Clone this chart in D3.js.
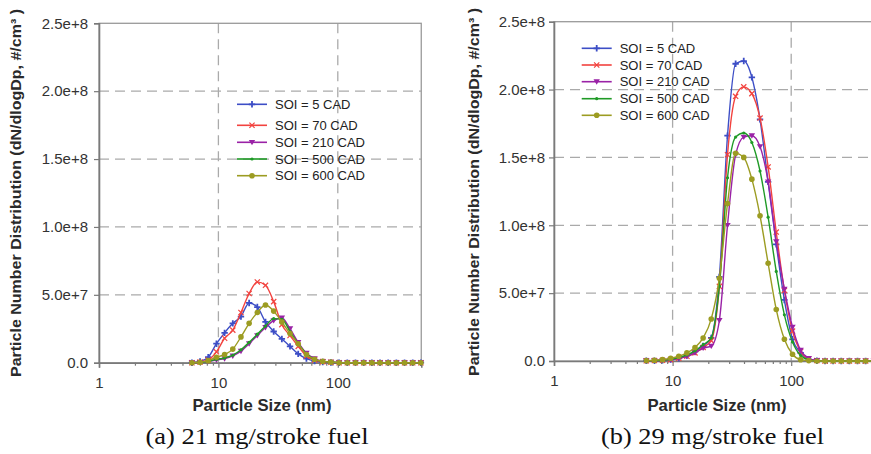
<!DOCTYPE html>
<html><head><meta charset="utf-8">
<script src="https://cdn.jsdelivr.net/npm/d3@7"></script>
<style>body{margin:0;background:#fff}svg{display:block}</style>
</head><body>
<svg id="c" width="871" height="454"></svg>
<script>
// ---------- DATA ----------
const sizes = [6.0,7.02,8.22,9.63,11.27,13.2,15.45,18.09,21.18,24.8,29.04,34.0,39.8,46.6,54.6,63.9,74.8,87.6,102.6,120.1,140.6,164.7,192.8,225.7,264.2,309.4,362.2,424.1,496.6];
const seriesNames = ["SOI = 5 CAD","SOI = 70 CAD","SOI = 210 CAD","SOI = 500 CAD","SOI = 600 CAD"];

// (a) 21 mg/stroke fuel
const a_soi5   = [0,0.01e8,0.04e8,0.14e8,0.22e8,0.29e8,0.34e8,0.44e8,0.41e8,0.30e8,0.23e8,0.175e8,0.12e8,0.065e8,0.03e8,0.012e8,0.005e8,0.002e8,0,0,0,0,0,0,0,0,0,0,0];
const a_soi70  = [0,0.005e8,0.02e8,0.08e8,0.18e8,0.24e8,0.37e8,0.51e8,0.595e8,0.57e8,0.45e8,0.28e8,0.20e8,0.12e8,0.05e8,0.02e8,0.008e8,0.003e8,0,0,0,0,0,0,0,0,0,0,0];
const a_soi210 = [0,0.003e8,0.01e8,0.02e8,0.03e8,0.05e8,0.085e8,0.14e8,0.20e8,0.26e8,0.31e8,0.33e8,0.25e8,0.15e8,0.07e8,0.03e8,0.01e8,0.004e8,0,0,0,0,0,0,0,0,0,0,0];
const a_soi500 = [0,0.003e8,0.01e8,0.025e8,0.035e8,0.055e8,0.095e8,0.15e8,0.21e8,0.27e8,0.325e8,0.32e8,0.23e8,0.14e8,0.065e8,0.025e8,0.01e8,0.004e8,0,0,0,0,0,0,0,0,0,0,0];
const a_soi600 = [0,0.003e8,0.015e8,0.04e8,0.06e8,0.10e8,0.19e8,0.29e8,0.37e8,0.425e8,0.38e8,0.30e8,0.215e8,0.14e8,0.06e8,0.025e8,0.01e8,0.004e8,0,0,0,0,0,0,0,0,0,0,0];

// (b) 29 mg/stroke fuel
const b_soi5   = [0.002e8,0.003e8,0.005e8,0.01e8,0.02e8,0.04e8,0.07e8,0.11e8,0.17e8,0.62e8,1.66e8,2.19e8,2.21e8,2.09e8,1.78e8,1.32e8,0.86e8,0.45e8,0.16e8,0.06e8,0.01e8,0.002e8,0,0,0,0,0,0,0];
const b_soi70  = [0.002e8,0.003e8,0.005e8,0.01e8,0.02e8,0.035e8,0.06e8,0.10e8,0.15e8,0.55e8,1.52e8,1.95e8,2.02e8,1.97e8,1.79e8,1.43e8,0.95e8,0.52e8,0.22e8,0.07e8,0.015e8,0.003e8,0,0,0,0,0,0,0];
const b_soi210 = [0.002e8,0.003e8,0.005e8,0.01e8,0.02e8,0.035e8,0.06e8,0.095e8,0.11e8,0.30e8,1.0e8,1.52e8,1.65e8,1.66e8,1.58e8,1.32e8,0.88e8,0.53e8,0.25e8,0.08e8,0.02e8,0.004e8,0,0,0,0,0,0,0];
const b_soi500 = [0.002e8,0.003e8,0.006e8,0.012e8,0.025e8,0.045e8,0.075e8,0.12e8,0.17e8,0.55e8,1.35e8,1.65e8,1.68e8,1.61e8,1.40e8,1.06e8,0.66e8,0.34e8,0.14e8,0.04e8,0.008e8,0,0,0,0,0,0,0,0];
const b_soi600 = [0.003e8,0.005e8,0.01e8,0.02e8,0.035e8,0.06e8,0.10e8,0.17e8,0.31e8,0.61e8,1.16e8,1.53e8,1.50e8,1.34e8,1.07e8,0.72e8,0.38e8,0.16e8,0.05e8,0.01e8,0.003e8,0,0,0,0,0,0,0,0];

const yTicks = [0,5e7,1e8,1.5e8,2e8,2.5e8];
const yTickLabels = ["0.0","5.0e+7","1.0e+8","1.5e+8","2.0e+8","2.5e+8"];
const xTicks = [1,10,100];
const xTickLabels = ["1","10","100"];
const xMinor = [2,3,4,5,6,7,8,9,20,30,40,50,60,70,80,90,200,300,400,500];
const yTitle = "Particle Number Distribution (dN/dlogDp, #/cm³ )";
const xTitle = "Particle Size (nm)";
const captions = ["(a) 21 mg/stroke fuel","(b) 29 mg/stroke fuel"];

// ---------- STYLE / LAYOUT ----------
const colors = ["#3d4ec6","#f2433f","#9a22a6","#1f9a26","#9c9c22"];
const markers = ["plus","x","tri","dot","circle"];
const sans = "'Liberation Sans', Arial, Helvetica, sans-serif";
const serif = "'Liberation Serif', 'Times New Roman', serif";

const panels = [
  {series:[a_soi5,a_soi70,a_soi210,a_soi500,a_soi600], caption:captions[0],
   x0:99, decade:119.4, yb:362.7, yt:23.3, tickPad:6, xPad:10,
   yTitleX:15, yTitleY:193, xTitleX:262, xTitleY:405, capX:257, capY:444,
   legX:237, legY:[104.3,125.3,142.3,159,175.7]},
  {series:[b_soi5,b_soi70,b_soi210,b_soi500,b_soi600], caption:captions[1],
   x0:554, decade:118.6, yb:361, yt:21.7, tickPad:4, xPad:9,
   yTitleX:473, yTitleY:192, xTitleX:717, xTitleY:405, capX:712.5, capY:444,
   legX:581.7, legY:[48.3,65,81.7,98.7,115.3]}
];

const svg = d3.select("#c");

function drawMarker(g, type, color, cx, cy) {
  if (type === "plus") {
    g.append("path").attr("d", `M${cx-3.2},${cy}H${cx+3.2}M${cx},${cy-3.2}V${cy+3.2}`)
      .attr("stroke", color).attr("stroke-width", 1.8).attr("fill","none");
  } else if (type === "x") {
    g.append("path").attr("d", `M${cx-2.6},${cy-2.6}L${cx+2.6},${cy+2.6}M${cx-2.6},${cy+2.6}L${cx+2.6},${cy-2.6}`)
      .attr("stroke", color).attr("stroke-width", 1.2).attr("fill","none");
  } else if (type === "tri") {
    g.append("path").attr("d", `M${cx-3.2},${cy-2.4}L${cx+3.2},${cy-2.4}L${cx},${cy+3}Z`).attr("fill", color);
  } else if (type === "dot") {
    g.append("circle").attr("cx",cx).attr("cy",cy).attr("r",1.6).attr("fill",color);
  } else {
    g.append("circle").attr("cx",cx).attr("cy",cy).attr("r",2.8).attr("fill",color);
  }
}

panels.forEach(p => {
  const xEnd = p.x0 + Math.log10(500) * p.decade;
  const x = d3.scaleLog().domain([1,500]).range([p.x0, xEnd]);
  const y = d3.scaleLinear().domain([0,2.5e8]).range([p.yb, p.yt]);
  const g = svg.append("g");

  // gridlines
  g.selectAll(".hg").data(yTicks.slice(1,5)).join("line")
    .attr("x1", p.x0).attr("x2", xEnd).attr("y1", d=>y(d)).attr("y2", d=>y(d))
    .attr("stroke","#aaaaaa").attr("stroke-width",1.3).attr("stroke-dasharray","10,6");
  g.selectAll(".vg").data([10,100]).join("line")
    .attr("x1", d=>x(d)).attr("x2", d=>x(d)).attr("y1", p.yt).attr("y2", p.yb)
    .attr("stroke","#aaaaaa").attr("stroke-width",1.3).attr("stroke-dasharray","10,6");

  // frame
  g.append("rect").attr("x",p.x0).attr("y",p.yt).attr("width",xEnd-p.x0).attr("height",p.yb-p.yt)
    .attr("fill","none").attr("stroke","#9a9a9a").attr("stroke-width",1.3);

  // axes
  const ya = g.append("g").attr("transform",`translate(${p.x0},0)`)
    .call(d3.axisLeft(y).tickValues(yTicks).tickSize(5).tickPadding(p.tickPad)
      .tickFormat((d,i)=>yTickLabels[i]));
  const xa = g.append("g").attr("transform",`translate(0,${p.yb})`)
    .call(d3.axisBottom(x).tickValues(xTicks).tickSize(5).tickPadding(p.xPad)
      .tickFormat((d,i)=>xTickLabels[i]));
  const xm = g.append("g").attr("transform",`translate(0,${p.yb})`)
    .call(d3.axisBottom(x).tickValues(xMinor).tickSize(3).tickFormat(""));
  xm.select(".domain").remove();
  [ya,xa,xm].forEach(a => {
    a.select(".domain").attr("stroke","#7a7a7a").attr("stroke-width",1.6);
    a.selectAll(".tick line").attr("stroke","#7a7a7a").attr("stroke-width",1.2);
    a.selectAll(".tick text").attr("fill","#333").style("font-family",sans).style("font-size","15px");
  });

  // series
  const line = d3.line().x(d=>x(d[0])).y(d=>y(d[1])).curve(d3.curveMonotoneX);
  p.series.forEach((vals, si) => {
    const pts = sizes.map((s,i)=>[s, vals[i]]);
    g.append("path").attr("d", line(pts)).attr("fill","none")
      .attr("stroke", colors[si]).attr("stroke-width",1.4);
    const mg = g.append("g");
    pts.forEach(d => drawMarker(mg, markers[si], colors[si], x(d[0]), y(d[1])));
  });

  // legend
  seriesNames.forEach((name, i) => {
    const ly = p.legY[i];
    g.append("line").attr("x1",p.legX).attr("x2",p.legX+30).attr("y1",ly).attr("y2",ly)
      .attr("stroke",colors[i]).attr("stroke-width",1.6);
    drawMarker(g, markers[i], colors[i], p.legX+15, ly);
    g.append("text").attr("x",p.legX+38).attr("y",ly).attr("dominant-baseline","central")
      .style("font-family",sans).style("font-size","13px").attr("fill","#222").text(name);
  });

  // titles
  g.append("text").attr("transform",`translate(${p.yTitleX},${p.yTitleY}) rotate(-90)`)
    .attr("text-anchor","middle").attr("dominant-baseline","central")
    .attr("textLength",368).attr("lengthAdjust","spacingAndGlyphs")
    .style("font-family",sans).style("font-size","15px").style("font-weight","bold")
    .attr("fill","#2a2a2a").text(yTitle);
  g.append("text").attr("x",p.xTitleX).attr("y",p.xTitleY).attr("text-anchor","middle")
    .attr("dominant-baseline","central")
    .attr("textLength",139).attr("lengthAdjust","spacingAndGlyphs")
    .style("font-family",sans).style("font-size","16.5px").style("font-weight","bold")
    .attr("fill","#2a2a2a").text(xTitle);
  g.append("text").attr("x",p.capX).attr("y",p.capY).attr("text-anchor","middle")
    .attr("textLength",223).attr("lengthAdjust","spacingAndGlyphs")
    .style("font-family",serif).style("font-size","23px")
    .attr("fill","#111").text(p.caption);
});
</script>
</body></html>
